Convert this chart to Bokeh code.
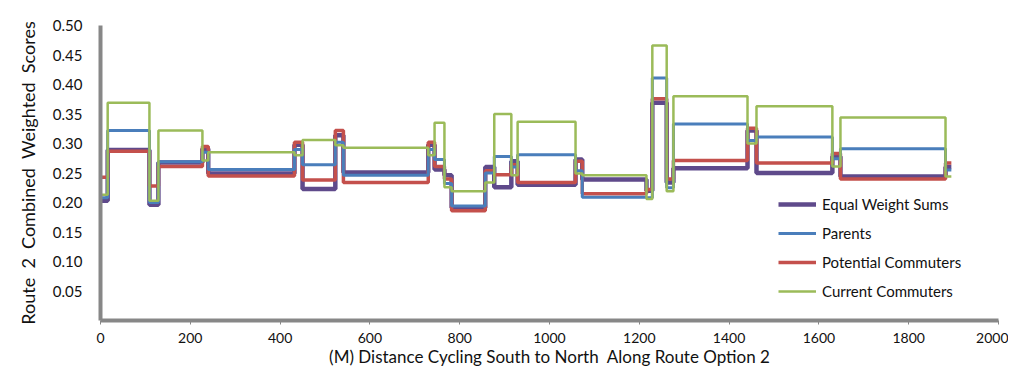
from bokeh.plotting import figure
from bokeh.models import Range1d, FixedTicker, PrintfTickFormatter, Legend, LegendItem
from bokeh.embed import file_html
from bokeh.resources import INLINE

# Segment boundaries (m) along route
dist = [0, 16, 109, 129, 227, 240, 432, 450, 523, 541, 730, 744, 766, 782, 857, 877,
        915, 929, 1058, 1073, 1216, 1229, 1261, 1276, 1441, 1461, 1630, 1648, 1882, 1895]

equal_weight = [0.203, 0.289, 0.196, 0.268, 0.291, 0.249, 0.298, 0.223, 0.314, 0.251,
                0.298, 0.256, 0.246, 0.191, 0.260, 0.226, 0.270, 0.230, 0.273, 0.239,
                0.220, 0.369, 0.234, 0.258, 0.322, 0.250, 0.278, 0.244, 0.260]
parents = [0.208, 0.322, 0.200, 0.269, 0.285, 0.256, 0.290, 0.264, 0.302, 0.246,
           0.290, 0.273, 0.232, 0.194, 0.250, 0.278, 0.260, 0.281, 0.254, 0.209,
           0.208, 0.411, 0.225, 0.333, 0.305, 0.311, 0.274, 0.291, 0.255]
potential = [0.243, 0.287, 0.228, 0.261, 0.295, 0.245, 0.302, 0.238, 0.322, 0.234,
             0.302, 0.261, 0.240, 0.186, 0.254, 0.247, 0.264, 0.234, 0.270, 0.215,
             0.222, 0.376, 0.240, 0.271, 0.326, 0.267, 0.283, 0.240, 0.267]
current = [0.213, 0.369, 0.203, 0.322, 0.271, 0.285, 0.280, 0.306, 0.297, 0.293,
           0.280, 0.335, 0.226, 0.219, 0.234, 0.350, 0.246, 0.337, 0.249, 0.246,
           0.206, 0.466, 0.219, 0.380, 0.300, 0.363, 0.261, 0.344, 0.244]

series_names = ["Equal Weight Sums", "Parents", "Potential Commuters", "Current Commuters"]
y_ticks = [0.05, 0.10, 0.15, 0.20, 0.25, 0.30, 0.35, 0.40, 0.45, 0.50]
x_ticks = list(range(0, 2001, 200))

FONT = "Lato"
SP = " \u00a0"  # wide gap between words, as in the original

p = figure(width=1008, height=369, output_backend="svg", toolbar_location=None,
           x_range=Range1d(0, 2000), y_range=Range1d(0, 0.5),
           min_border_left=100, min_border_right=10, min_border_top=25, min_border_bottom=49)
p.outline_line_color = None
p.grid.visible = False
p.background_fill_color = "white"

def ext(v):
    return v + [v[-1]]

r_eq = p.step(dist, ext(equal_weight), mode="after", line_color="#5F4A8B", line_width=4.5)
r_pc = p.step(dist, ext(potential), mode="after", line_color="#C4504C", line_width=3.5)
r_pa = p.step(dist, ext(parents), mode="after", line_color="#4A7EBB", line_width=3)
r_cc = p.step(dist, ext(current), mode="after", line_color="#9BBB59", line_width=2.5)

legend = Legend(items=[LegendItem(label=series_names[0], renderers=[r_eq]),
                       LegendItem(label=series_names[1], renderers=[r_pa]),
                       LegendItem(label=series_names[2], renderers=[r_pc]),
                       LegendItem(label=series_names[3], renderers=[r_cc])],
                location=(678, 19), border_line_color=None, background_fill_alpha=0,
                label_text_font=FONT, label_text_font_size="15px", label_text_color="#111111",
                glyph_width=38, glyph_height=20, label_height=20, spacing=9,
                padding=0, margin=0, label_standoff=6)
p.add_layout(legend)

# Y axis
p.yaxis.ticker = FixedTicker(ticks=y_ticks)
p.yaxis.formatter = PrintfTickFormatter(format="%.2f")
p.yaxis.axis_line_color = "#878787"
p.yaxis.axis_line_width = 4
p.yaxis.major_tick_line_color = None
p.yaxis.minor_tick_line_color = None
p.yaxis.major_label_text_font = FONT
p.yaxis.major_label_text_font_size = "15px"
p.yaxis.major_label_text_color = "#111111"
p.yaxis.major_label_standoff = 12
p.yaxis.axis_label = SP.join(["Route", "2", "Combined", "Weighted", "Scores"])
p.yaxis.axis_label_text_font = FONT
p.yaxis.axis_label_text_font_size = "18px"
p.yaxis.axis_label_text_font_style = "normal"
p.yaxis.axis_label_text_color = "#111111"
p.yaxis.axis_label_standoff = 11

# X axis
p.xaxis.ticker = FixedTicker(ticks=x_ticks)
p.xaxis.axis_line_color = "#878787"
p.xaxis.axis_line_width = 4
p.xaxis.major_tick_line_color = "#878787"
p.xaxis.major_tick_in = 0
p.xaxis.major_tick_out = 4
p.xaxis.minor_tick_line_color = None
p.xaxis.major_label_text_font = FONT
p.xaxis.major_label_text_font_size = "14px"
p.xaxis.major_label_text_color = "#111111"
p.xaxis.major_label_standoff = 8
p.xaxis.axis_label = "(M) Distance Cycling South to North" + SP + "Along Route Option 2"
p.xaxis.axis_label_text_font = FONT
p.xaxis.axis_label_text_font_size = "17px"
p.xaxis.axis_label_text_font_style = "normal"
p.xaxis.axis_label_text_color = "#111111"
p.xaxis.axis_label_standoff = 0

open("out.html", "w").write(file_html(p, INLINE))
